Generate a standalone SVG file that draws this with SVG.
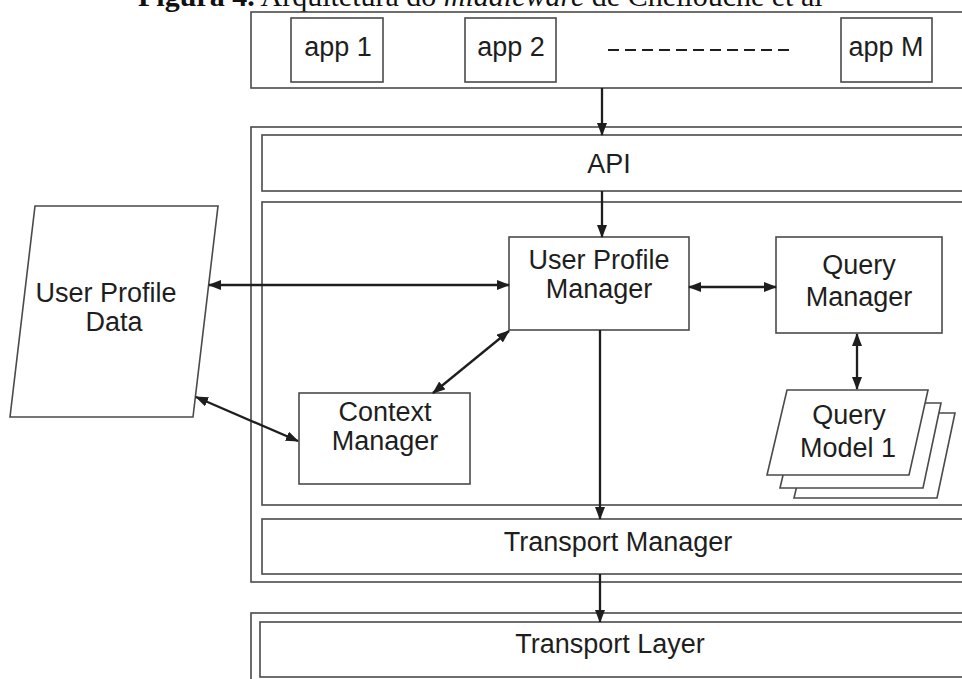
<svg xmlns="http://www.w3.org/2000/svg" width="962" height="679" viewBox="0 0 962 679">
<defs>
<style>
.box{fill:#fff;stroke:#4a4a4a;stroke-width:1.6}
.lbl{font-family:"Liberation Sans",Arial,sans-serif;font-size:27px;fill:#1e1e1e;text-anchor:middle}
.con{stroke:#1e1e1e;stroke-width:2.3;fill:none}
.cap{font-family:"Liberation Serif","Times New Roman",serif;font-size:30px;fill:#111}
</style>
<marker id="ah" viewBox="0 0 13 10" refX="12" refY="5" markerWidth="13" markerHeight="10" markerUnits="userSpaceOnUse" orient="auto-start-reverse">
<path d="M0,0 L13,5 L0,10 z" fill="#1e1e1e"/>
</marker>
</defs>
<rect width="962" height="679" fill="#fff"/>

<g id="caption">
<text class="cap" x="138" y="6"><tspan font-weight="bold">Figura 4.</tspan> Arquitetura do <tspan font-style="italic">middleware</tspan> de Chellouche et al</text>
</g>

<g id="apps">
<rect class="box" x="251" y="12" width="730" height="76"/>
<g id="app1"><rect class="box" x="291" y="18" width="92" height="64"/><text class="lbl" x="338" y="56">app 1</text></g>
<g id="app2"><rect class="box" x="465" y="18" width="91" height="64"/><text class="lbl" x="511" y="56">app 2</text></g>
<line x1="608" y1="50" x2="794" y2="50" stroke="#1e1e1e" stroke-width="2" stroke-dasharray="11,6"/>
<g id="appM"><rect class="box" x="841" y="18" width="91" height="64"/><text class="lbl" x="886" y="56">app M</text></g>
</g>

<g id="middleware">
<rect class="box" x="251" y="127" width="730" height="455"/>
<g id="api"><rect class="box" x="262" y="135" width="720" height="56"/><text class="lbl" x="609" y="173">API</text></g>
<rect class="box" x="262" y="202" width="720" height="303"/>
<g id="tm"><rect class="box" x="262" y="519" width="720" height="55"/><text class="lbl" x="618" y="551">Transport Manager</text></g>
</g>

<g id="upm"><rect class="box" x="509" y="237" width="180" height="93"/><text class="lbl" x="599" y="269">User Profile</text><text class="lbl" x="599" y="298">Manager</text></g>
<g id="qm"><rect class="box" x="776" y="237" width="166" height="96"/><text class="lbl" x="859" y="274">Query</text><text class="lbl" x="859" y="306">Manager</text></g>
<g id="cm"><rect class="box" x="299" y="393" width="171" height="91"/><text class="lbl" x="385" y="421">Context</text><text class="lbl" x="385" y="450">Manager</text></g>

<g id="upd"><polygon class="box" points="35,206 218,206 193,417 10,417"/><text class="lbl" x="106" y="302">User Profile</text><text class="lbl" x="114" y="331">Data</text></g>

<g id="qmodel">
<polygon class="box" points="814,413 955,413 937,498 794,498"/>
<polygon class="box" points="800,403 941,403 923,488 780,488"/>
<polygon class="box" points="787,390 928,390 909,475 767,475"/>
<text class="lbl" x="849" y="424">Query</text><text class="lbl" x="848" y="457">Model 1</text>
</g>

<g id="tl">
<rect class="box" x="251" y="613" width="730" height="80"/>
<rect class="box" x="260" y="622" width="722" height="55"/>
<text class="lbl" x="610" y="653">Transport Layer</text>
</g>

<g id="connectors">
<line class="con" x1="602" y1="88" x2="602" y2="135" marker-end="url(#ah)"/>
<line class="con" x1="602" y1="191" x2="602" y2="237" marker-end="url(#ah)"/>
<line class="con" x1="209" y1="285" x2="509" y2="285" marker-start="url(#ah)" marker-end="url(#ah)"/>
<line class="con" x1="689" y1="287" x2="776" y2="287" marker-start="url(#ah)" marker-end="url(#ah)"/>
<line class="con" x1="433" y1="393" x2="509" y2="331" marker-start="url(#ah)" marker-end="url(#ah)"/>
<line class="con" x1="196" y1="397" x2="298" y2="441" marker-start="url(#ah)" marker-end="url(#ah)"/>
<line class="con" x1="600" y1="330" x2="600" y2="519" marker-end="url(#ah)"/>
<line class="con" x1="857" y1="334" x2="857" y2="389" marker-start="url(#ah)" marker-end="url(#ah)"/>
<line class="con" x1="600" y1="574" x2="600" y2="622" marker-end="url(#ah)"/>
</g>
</svg>
